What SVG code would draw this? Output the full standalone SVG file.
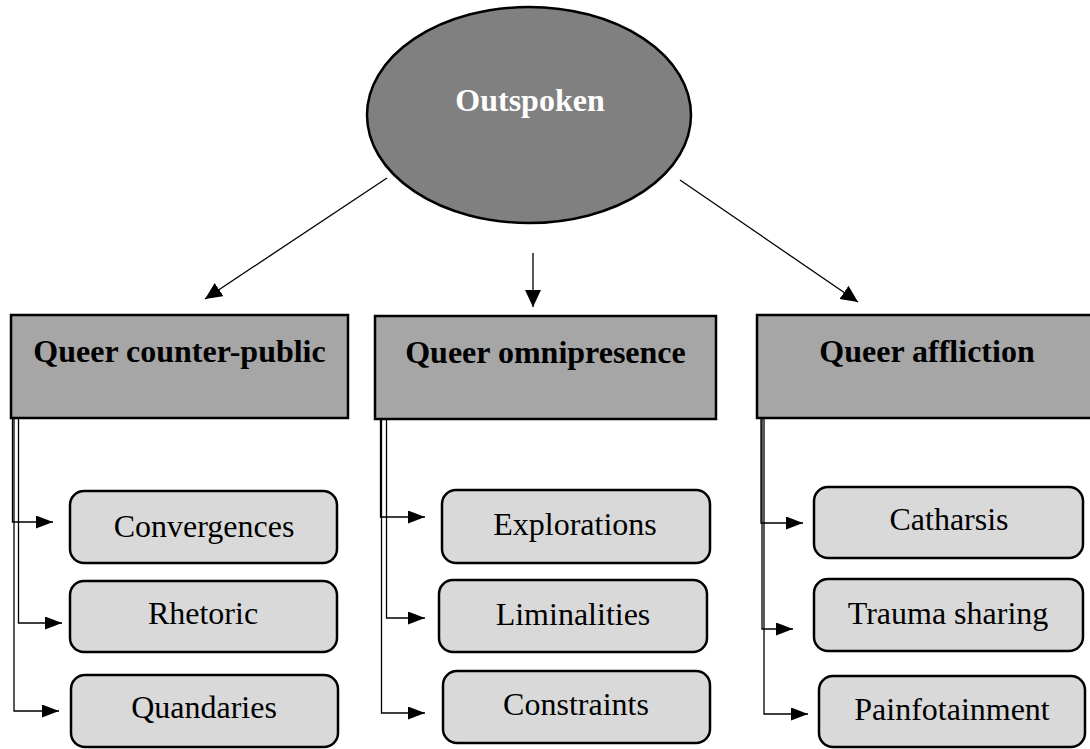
<svg xmlns="http://www.w3.org/2000/svg" width="1090" height="749" viewBox="0 0 1090 749">
<style>
.t{font-family:"Liberation Serif","Times New Roman",serif;font-size:32px;text-anchor:middle;fill:#000}
.b{font-weight:bold}
.head{fill:#a6a6a6;stroke:#000;stroke-width:2.5}
.sub{fill:#d9d9d9;stroke:#000;stroke-width:2.5}
.ln{fill:none;stroke:#000;stroke-width:1.3}
</style>
<defs>
<marker id="am" markerUnits="userSpaceOnUse" markerWidth="20" markerHeight="18" refX="17" refY="8" orient="auto"><path d="M0,0 L17,8 L0,16 z" fill="#000"/></marker>
<marker id="as" markerUnits="userSpaceOnUse" markerWidth="20" markerHeight="16" refX="17" refY="6.5" orient="auto"><path d="M0,0 L17,6.5 L0,13 z" fill="#000"/></marker>
</defs>
<g id="connectors">
<path class="ln" d="M387,178 L205,299" marker-end="url(#am)"/>
<path class="ln" d="M533,253 L533,307" marker-end="url(#am)"/>
<path class="ln" d="M680,180 L858,302" marker-end="url(#am)"/>
<path class="ln" d="M12.5,418 V522 H53" marker-end="url(#as)"/>
<path class="ln" d="M18.5,418 V623 H62" marker-end="url(#as)"/>
<path class="ln" d="M14,418 V711 H59" marker-end="url(#as)"/>
<path class="ln" d="M380.5,419 V517 H425" marker-end="url(#as)"/>
<path class="ln" d="M386.5,419 V618 H425" marker-end="url(#as)"/>
<path class="ln" d="M381.5,419 V713 H425" marker-end="url(#as)"/>
<path class="ln" d="M761,418 V523 H803" marker-end="url(#as)"/>
<path class="ln" d="M762,418 V629 H793" marker-end="url(#as)"/>
<path class="ln" d="M764,418 V714 H808" marker-end="url(#as)"/>
</g>
<g id="outspoken">
<ellipse cx="529" cy="115" rx="162" ry="108" fill="#808080" stroke="#000" stroke-width="2.5"/>
<text class="t b" x="530" y="111" style="fill:#fff">Outspoken</text>
</g>
<g id="counter-public">
<rect class="head" x="11" y="315" width="337" height="103"/>
<text class="t b" x="179.5" y="362">Queer counter-public</text>
</g>
<g id="omnipresence">
<rect class="head" x="375" y="316" width="341" height="103"/>
<text class="t b" x="545.5" y="363">Queer omnipresence</text>
</g>
<g id="affliction">
<rect class="head" x="757" y="315" width="341" height="103"/>
<text class="t b" x="927" y="362">Queer affliction</text>
</g>
<g id="convergences">
<rect class="sub" x="70" y="491" width="267" height="72" rx="14"/>
<text class="t" x="204" y="537">Convergences</text>
</g>
<g id="rhetoric">
<rect class="sub" x="70" y="581" width="267" height="71" rx="14"/>
<text class="t" x="203" y="624">Rhetoric</text>
</g>
<g id="quandaries">
<rect class="sub" x="71" y="675" width="267" height="72" rx="14"/>
<text class="t" x="204" y="718">Quandaries</text>
</g>
<g id="explorations">
<rect class="sub" x="442" y="490" width="268" height="73" rx="14"/>
<text class="t" x="575" y="535">Explorations</text>
</g>
<g id="liminalities">
<rect class="sub" x="439" y="580" width="268" height="72" rx="14"/>
<text class="t" x="573" y="625">Liminalities</text>
</g>
<g id="constraints">
<rect class="sub" x="443" y="671" width="267" height="72" rx="14"/>
<text class="t" x="576" y="715">Constraints</text>
</g>
<g id="catharsis">
<rect class="sub" x="814" y="487" width="269" height="71" rx="14"/>
<text class="t" x="949" y="530">Catharsis</text>
</g>
<g id="trauma-sharing">
<rect class="sub" x="814" y="579" width="269" height="72" rx="14"/>
<text class="t" x="948" y="624">Trauma sharing</text>
</g>
<g id="painfotainment">
<rect class="sub" x="819" y="676" width="266" height="71" rx="14"/>
<text class="t" x="952" y="720">Painfotainment</text>
</g>
</svg>
